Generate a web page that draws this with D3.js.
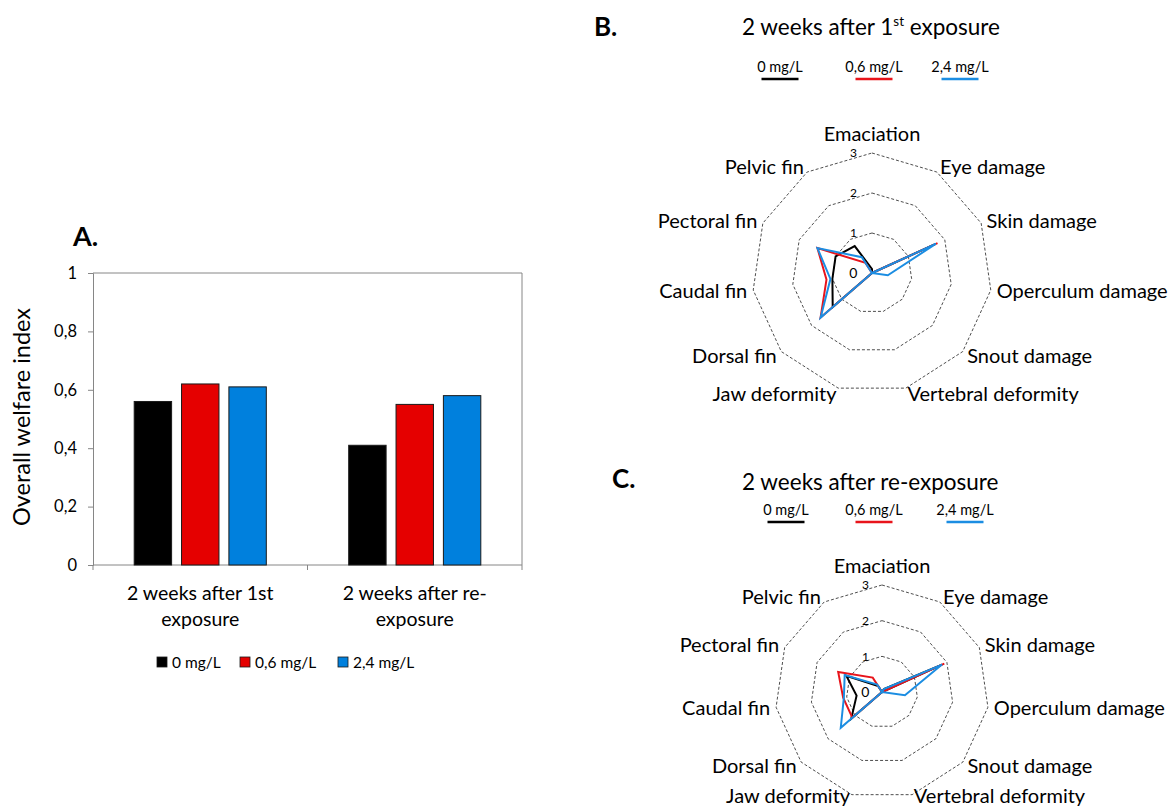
<!DOCTYPE html>
<html>
<head>
<meta charset="utf-8">
<script src="https://cdn.jsdelivr.net/npm/d3@7"></script>
<style>
  html, body { margin: 0; padding: 0; background: #fff; }
  svg { display: block; font-family: Lato, "Noto Sans", sans-serif; }
</style>
</head>
<body>
<svg id="chart" width="1171" height="806"></svg>
<script>
// ---------- DATA ----------
const seriesNames = ["0 mg/L", "0,6 mg/L", "2,4 mg/L"];
const barColors = ["#000000", "#e50000", "#0080dd"];
const lineColors = ["#000000", "#e8141b", "#1b8de2"];

// Panel A: overall welfare index
const barGroups = ["2 weeks after 1st exposure", "2 weeks after re-exposure"];
const barGroupLines = [["2 weeks after 1st", "exposure"], ["2 weeks after re-", "exposure"]];
const welfare0 = [0.56, 0.41];
const welfare06 = [0.62, 0.55];
const welfare24 = [0.61, 0.58];
const yTicks = [0, 0.2, 0.4, 0.6, 0.8, 1];

// Panels B & C: radar categories (clockwise from top)
const radarCategories = ["Emaciation", "Eye damage", "Skin damage", "Operculum damage", "Snout damage",
  "Vertebral deformity", "Jaw deformity", "Dorsal fin", "Caudal fin", "Pectoral fin", "Pelvic fin"];
const radarTicks = [0, 1, 2, 3];

// B: 2 weeks after 1st exposure
const firstExp0  = [0.1, 0, 1.75, 0, 0, 0, 0, 1.3, 1.0, 1.0, 0.8];
const firstExp06 = [0, 0, 1.8, 0, 0, 0, 0, 1.7, 1.15, 1.5, 0.3];
const firstExp24 = [0, 0, 1.75, 0.4, 0, 0, 0, 1.7, 1.05, 1.5, 0.47];

// C: 2 weeks after re-exposure
const reExp0  = [0, 0.1, 1.85, 0, 0, 0, 0, 1.14, 0.72, 1.1, 0.2];
const reExp06 = [0, 0, 1.92, 0, 0, 0, 0, 1.1, 1.1, 1.35, 0.48];
const reExp24 = [0, 0.1, 1.85, 0.65, 0, 0, 0, 1.53, 1.08, 1.15, 0.25];

// ---------- DRAW ----------
const svg = d3.select("#chart");
svg.append("rect").attr("width", 1171).attr("height", 806).attr("fill", "#fff");
const fmt = d => (d === 0 ? "0" : d === 1 ? "1" : String(d).replace(".", ","));

// ===== Panel A: bar chart =====
(function () {
  const left = 93, right = 522, top = 273, bottom = 565;
  const barSeries = [welfare0, welfare06, welfare24];
  const x0 = d3.scaleBand().domain(barGroups).range([left, right]).paddingInner(0).paddingOuter(0);
  const x1 = d3.scaleBand().domain(seriesNames).range([0, x0.bandwidth()]).paddingInner(0.21).paddingOuter(0.87);
  const y = d3.scaleLinear().domain([0, 1]).range([bottom, top]);
  const g = svg.append("g");
  const axisColor = "#868686";

  // frame (top & right)
  g.append("line").attr("x1", left).attr("x2", right).attr("y1", y(1)).attr("y2", y(1)).attr("stroke", axisColor);
  g.append("line").attr("x1", right).attr("x2", right).attr("y1", y(1)).attr("y2", y(0)).attr("stroke", axisColor);

  // y axis
  const ya = g.append("g").attr("transform", `translate(${left},0)`)
    .call(d3.axisLeft(y).tickValues(yTicks).tickFormat(fmt).tickSize(5).tickPadding(11));
  ya.select(".domain").attr("stroke", axisColor);
  ya.selectAll(".tick line").attr("stroke", axisColor);
  ya.selectAll(".tick text").attr("font-size", 16.5).attr("fill", "#000").attr("font-family", "Lato");

  // x axis
  g.append("line").attr("x1", left).attr("x2", right).attr("y1", y(0)).attr("y2", y(0)).attr("stroke", axisColor);
  const edges = [x0(barGroups[0]), ...barGroups.map(d => x0(d) + x0.bandwidth())];
  g.selectAll(".xtick").data(edges).join("line")
    .attr("x1", d => d).attr("x2", d => d).attr("y1", y(0)).attr("y2", y(0) + 5).attr("stroke", axisColor);

  // bars
  barGroups.forEach((grp, gi) => {
    seriesNames.forEach((s, si) => {
      const v = barSeries[si][gi];
      g.append("rect")
        .attr("x", x0(grp) + x1(s)).attr("width", x1.bandwidth())
        .attr("y", y(v)).attr("height", y(0) - y(v))
        .attr("fill", barColors[si]).attr("stroke", "#1a1a1a").attr("stroke-width", 1);
    });
    const t = g.append("text").attr("text-anchor", "middle").attr("font-size", 19.5).attr("fill", "#000");
    barGroupLines[gi].forEach((ln, li) => {
      t.append("tspan").attr("x", x0(grp) + x0.bandwidth() / 2).attr("y", 600 + li * 26).text(ln);
    });
  });

  // y title
  g.append("text").attr("transform", `translate(22,${(top + bottom) / 2 - 2}) rotate(-90)`)
    .attr("text-anchor", "middle").attr("dy", "0.35em").attr("font-size", 23.5).attr("fill", "#000").text("Overall welfare index");

  // panel letter
  g.append("text").attr("x", 73).attr("y", 246).attr("font-size", 27).attr("font-weight", "bold").text("A.");

  // legend
  const legX = [157, 240, 338];
  seriesNames.forEach((s, i) => {
    g.append("rect").attr("x", legX[i]).attr("y", 657).attr("width", 10).attr("height", 10)
      .attr("fill", barColors[i]).attr("stroke", "#1a1a1a").attr("stroke-width", 0.8);
    g.append("text").attr("x", legX[i] + 15).attr("y", 667.5).attr("font-size", 15.5).attr("fill", "#000").text(s);
  });
})();

// ===== Radar helper =====
function radar(opts) {
  const { cx, cy, R, data, letter, letterX, letterY, titleMain, titleSup, titleRest, titleX, titleY, legendTextY, legendLineY, legendX, bottomShift } = opts;
  const g = svg.append("g");
  const n = radarCategories.length;
  const r = d3.scaleLinear().domain([0, 3]).range([0, R]);
  const ang = d3.scalePoint().domain(radarCategories).range([0, 2 * Math.PI * (n - 1) / n]);
  const pt = (cat, v) => [cx + r(v) * Math.sin(ang(cat)), cy - r(v) * Math.cos(ang(cat))];

  // rings
  radarTicks.filter(t => t > 0).forEach(t => {
    const pts = radarCategories.map(c => pt(c, t));
    g.append("path").attr("d", d3.line()(pts) + "Z")
      .attr("fill", "none").attr("stroke", "#3a3a3a").attr("stroke-width", 0.9).attr("stroke-dasharray", "3,2");
  });
  // tick labels
  radarTicks.forEach(t => {
    g.append("text").attr("x", cx - R * 0.155).attr("y", cy - r(t)).attr("dy", "0.35em")
      .attr("text-anchor", "middle").attr("font-size", t === 0 ? 14 : 12).attr("fill", "#000").text(t);
  });
  // category labels
  radarCategories.forEach(c => {
    const a = ang(c), s = Math.sin(a), co = Math.cos(a);
    let lx = cx + (R + 6) * s, ly = cy - (R + 6) * co;
    let anchor = Math.abs(s) < 0.05 ? "middle" : s > 0 ? "start" : "end";
    if (co > 0.95) ly -= 13;
    if (co < -0.9) ly -= bottomShift;
    g.append("text").attr("x", lx).attr("y", ly).attr("dy", "0.35em")
      .attr("text-anchor", anchor).attr("font-size", 20).attr("fill", "#000").text(c);
  });
  // series lines
  data.forEach((vals, si) => {
    const pts = radarCategories.map((c, i) => pt(c, vals[i]));
    g.append("path").attr("d", d3.line()(pts) + "Z")
      .attr("fill", "none").attr("stroke", lineColors[si]).attr("stroke-width", 2).attr("stroke-linejoin", "miter");
  });
  // letter & title
  g.append("text").attr("x", letterX).attr("y", letterY).attr("font-size", 26).attr("font-weight", "bold").text(letter);
  const tt = g.append("text").attr("x", titleX).attr("y", titleY).attr("font-size", 22.5).attr("fill", "#000");
  tt.append("tspan").text(titleMain);
  if (titleSup) {
    tt.append("tspan").attr("font-size", 13.5).attr("dy", -9).text(titleSup);
    tt.append("tspan").attr("dy", 9).text(titleRest);
  }
  // legend
  seriesNames.forEach((s, i) => {
    g.append("text").attr("x", legendX[i]).attr("y", legendTextY).attr("text-anchor", "middle")
      .attr("font-size", 14.5).attr("fill", "#000").text(s);
    g.append("line").attr("x1", legendX[i] - 18.5).attr("x2", legendX[i] + 18.5)
      .attr("y1", legendLineY).attr("y2", legendLineY).attr("stroke", lineColors[i]).attr("stroke-width", 2.5);
  });
}

radar({
  cx: 872, cy: 273, R: 120, data: [firstExp0, firstExp06, firstExp24],
  letter: "B.", letterX: 594, letterY: 36,
  titleMain: "2 weeks after 1", titleSup: "st", titleRest: " exposure", titleX: 742, titleY: 35,
  legendTextY: 72, legendLineY: 79, legendX: [780, 874, 960], bottomShift: 0
});
radar({
  cx: 882, cy: 692, R: 107, data: [reExp0, reExp06, reExp24],
  letter: "C.", letterX: 612, letterY: 488,
  titleMain: "2 weeks after re-exposure", titleSup: null, titleRest: null, titleX: 742, titleY: 490,
  legendTextY: 515, legendLineY: 522, legendX: [786, 874, 965], bottomShift: 4
});
</script>
</body>
</html>
